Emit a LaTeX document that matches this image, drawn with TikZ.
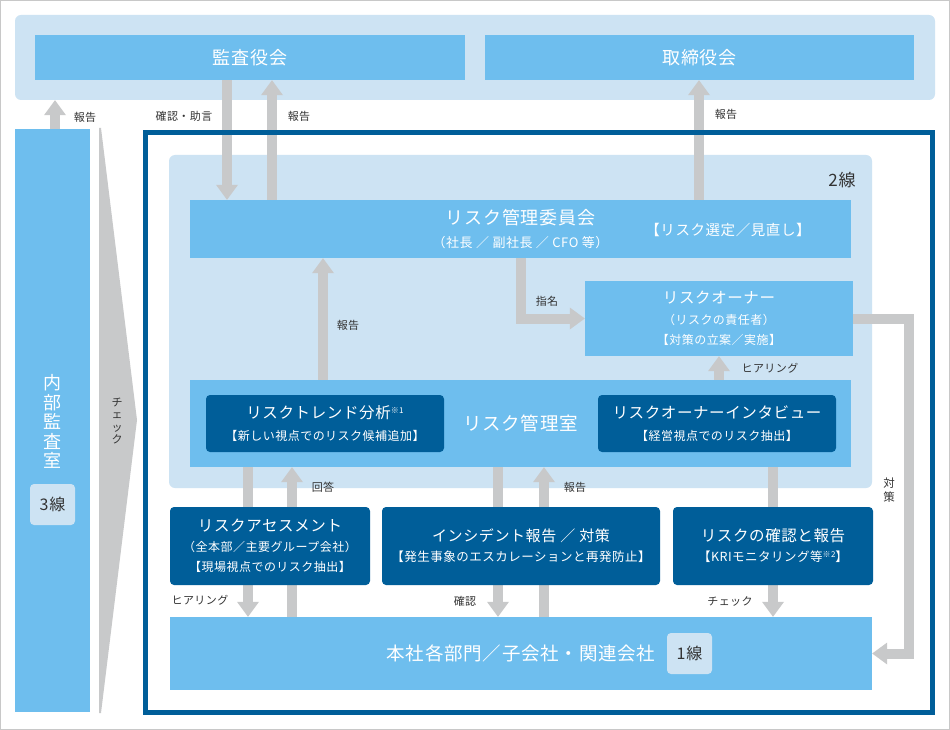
\documentclass[tikz,border=0pt]{standalone}
\usepackage{fontspec}
\setmainfont{Noto Sans CJK JP}[LetterSpace=4]
\usetikzlibrary{arrows.meta}

\definecolor{bandblue}{HTML}{CDE3F3}
\definecolor{midblue}{HTML}{6EBEEE}
\definecolor{darkblue}{HTML}{005E99}
\definecolor{flowgray}{HTML}{C8C9CA}
\definecolor{txtgray}{HTML}{333333}
\definecolor{edgegray}{HTML}{C8C8C8}

\pgfdeclarelayer{bands}
\pgfdeclarelayer{flows}
\pgfsetlayers{bands,flows,main}

\newcommand{\jpsize}[2]{\fontsize{#1}{#2}\selectfont}

\begin{document}
\begin{tikzpicture}[
    x=1pt, y=-1pt,
    band/.style={fill=bandblue, rounded corners=6pt, inner sep=0pt},
    litebox/.style={fill=midblue, text=white, inner sep=0pt, align=center},
    darkbox/.style={fill=darkblue, text=white, rounded corners=4pt, inner sep=0pt, align=center},
    linetag/.style={fill=bandblue, text=txtgray, rounded corners=4pt, inner sep=0pt,
        minimum width=45pt, minimum height=41pt, font=\jpsize{16}{16}},
    flow/.style={draw=flowgray, line width=10pt,
        -{Triangle[width=22pt, length=15pt, line width=0pt]}},
    lbl/.style={text=txtgray, inner sep=0pt, align=center, font=\jpsize{11}{12.5}}
]
    \useasboundingbox (0,0) rectangle (950,730);

    % Background bands
    \begin{pgfonlayer}{bands}
        \draw[draw=edgegray, fill=white] (0.5,0.5) rectangle (949.5,729.5);
        \node[band, minimum width=920pt, minimum height=85pt] (top) at (475,57.5) {};
        \node[band, minimum width=703pt, minimum height=333pt] (line2) at (520.5,321.5) {};
    \end{pgfonlayer}

    % Top Level
    \node[litebox, minimum width=430pt, minimum height=45pt, font=\jpsize{18}{20}] (kansa) at (250,57.5) {監査役会};
    \node[litebox, minimum width=429pt, minimum height=45pt, font=\jpsize{18}{20}] (torishimari) at (699.5,57.5) {取締役会};

    % 3rd line: internal audit
    \node[litebox, minimum width=75pt, minimum height=583pt] (naibu) at (52.5,420.5) {};
    \node[text=white, align=center, inner sep=0pt, font=\jpsize{18}{19.5}] (naibutxt) at (52.5,421.5) {内\\部\\監\\査\\室};
    \node[linetag] (line3) at (52.5,504.5) {3線};

    % Check wedge
    \fill[flowgray] (99,128) -- (101,128) -- (137,420) -- (101,713) -- (99,713) -- cycle;
    \node[lbl] (check) at (117,421) {チ\\ェ\\ッ\\ク};

    % Frame of 1st and 2nd line
    \draw[draw=darkblue, line width=4.5pt] (145.5,132.5) rectangle (932.5,712.5);
    \node[lbl, font=\jpsize{17}{17}] (line2txt) at (842,180) {2線};

    % 2nd line
    \node[litebox, minimum width=661pt, minimum height=58pt, font=\jpsize{13}{23}] (iinkai) at (520.5,229)
        {{\jpsize{18}{23}リスク管理委員会}\\（社長 ／ 副社長 ／ CFO 等）};
    \node[text=white, inner sep=0pt, font=\jpsize{14.5}{15}] (sentei) at (728,230) {【リスク選定／見直し】};
    \node[litebox, minimum width=268pt, minimum height=75pt, font=\jpsize{12}{20.5}] (owner) at (719,318.5)
        {{\jpsize{15.5}{20.5}リスクオーナー}\\（リスクの責任者）\\【対策の立案／実施】};
    \node[litebox, minimum width=661pt, minimum height=87pt, font=\jpsize{18.5}{20}] (shitsu) at (520.5,423.5) {リスク管理室};
    \node[darkbox, minimum width=238pt, minimum height=57pt, font=\jpsize{12}{22}] (trend) at (325,423.5)
        {{\jpsize{15.5}{22}リスクトレンド分析\raisebox{5pt}{\jpsize{8}{8}※1}}\\【新しい視点でのリスク候補追加】};
    \node[darkbox, minimum width=238pt, minimum height=57pt, font=\jpsize{12}{22}] (interview) at (717,423.5)
        {{\jpsize{15.5}{22}リスクオーナーインタビュー}\\【経営視点でのリスク抽出】};

    % Activities
    \node[darkbox, minimum width=200pt, minimum height=78pt, font=\jpsize{12}{20}] (assess) at (270,546)
        {{\jpsize{15.5}{20}リスクアセスメント}\\（全本部／主要グループ会社）\\【現場視点でのリスク抽出】};
    \node[darkbox, minimum width=278pt, minimum height=78pt, font=\jpsize{12.5}{20}] (incident) at (521,546)
        {{\jpsize{15}{20}インシデント報告 ／ 対策}\\【発生事象のエスカレーションと再発防止】};
    \node[darkbox, minimum width=200pt, minimum height=78pt, font=\jpsize{12.5}{20}] (kakunin) at (773,546)
        {{\jpsize{15.5}{20}リスクの確認と報告}\\【KRIモニタリング等\raisebox{4pt}{\jpsize{8}{8}※2}】};

    % 1st line
    \node[litebox, minimum width=702pt, minimum height=73pt, font=\jpsize{18.5}{20}] (honsha) at (521,653.5) {本社各部門／子会社・関連会社};
    \node[linetag] (line1) at (689.5,653.5) {1線};

    % Edges
    \begin{pgfonlayer}{flows}
        \draw[flow] (naibu.north -| 55,0) -- (top.south -| 55,0);
        \draw[flow] (kansa.south -| 227,0) -- (iinkai.north -| 227,0);
        \draw[flow] (iinkai.north -| 272,0) -- (kansa.south -| 272,0);
        \draw[flow] (iinkai.north -| 699,0) -- (torishimari.south -| 699,0);
        \draw[flow] (shitsu.north -| 323,0) -- (iinkai.south -| 323,0);
        \draw[flow] (iinkai.south -| 521,0) |- (owner.west);
        \draw[flow] (shitsu.north -| 719,0) -- (owner.south);
        \draw[flow] (owner.east) -- (owner.east -| 909,0) |- (honsha.east);
        \draw[flow] (shitsu.south -| 248,0) -- (honsha.north -| 248,0);
        \draw[flow] (honsha.north -| 292,0) -- (shitsu.south -| 292,0);
        \draw[flow] (shitsu.south -| 498,0) -- (honsha.north -| 498,0);
        \draw[flow] (honsha.north -| 544,0) -- (shitsu.south -| 544,0);
        \draw[flow] (shitsu.south -| 773,0) -- (honsha.north -| 773,0);
    \end{pgfonlayer}

    % Edge labels
    \node[lbl] (rep1) at (85,117) {報告};
    \node[lbl] (advice) at (184,116) {確認・助言};
    \node[lbl] (rep2) at (299,116) {報告};
    \node[lbl] (rep3) at (726,114) {報告};
    \node[lbl] (rep4) at (348,325) {報告};
    \node[lbl] (shimei) at (547,301) {指名};
    \node[lbl] (hear1) at (770,368) {ヒアリング};
    \node[lbl, font=\jpsize{11.5}{14}] (taisaku) at (889,490) {対\\策};
    \node[lbl] (kaitou) at (323,487) {回答};
    \node[lbl] (rep5) at (575,487) {報告};
    \node[lbl] (hear2) at (200,600) {ヒアリング};
    \node[lbl] (conf) at (465,601) {確認};
    \node[lbl] (check2) at (730,601) {チェック};

\end{tikzpicture}
\end{document}
